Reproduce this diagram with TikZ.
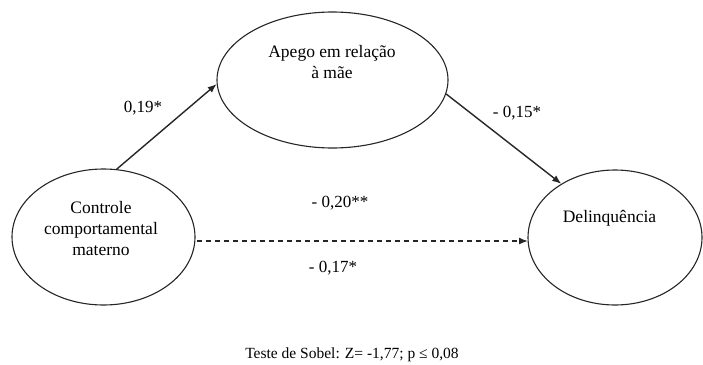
\documentclass[tikz,border=0pt]{standalone}
\usepackage{fontspec}
\setmainfont{Liberation Serif}
\usetikzlibrary{shapes.geometric,arrows.meta}
\begin{document}
\begin{tikzpicture}[x=1pt,y=-1pt,
  construct/.style={draw=black!85,line width=1.1pt,ellipse,inner sep=0pt},
  ctext/.style={font=\fontsize{17.5}{21}\selectfont,align=center,inner sep=0pt},
  coef/.style={font=\fontsize{17}{20}\selectfont,inner sep=0pt},
  path/.style={draw=black!85,line width=1.4pt,-{Latex[length=9pt,width=7pt]}},
  indirect/.style={path,dash pattern=on 5pt off 4pt}]
  \useasboundingbox (0,0) rectangle (703,364);

  % the three constructs
  \node[construct,minimum width=183pt,minimum height=136pt] (ctrl) at (103.5,237) {};
  \node[construct,minimum width=231pt,minimum height=136pt] (apego) at (332.5,80) {};
  \node[construct,minimum width=174pt,minimum height=135pt] (delinq) at (615,237.5) {};

  \node[ctext] (ctrltxt) at (101,229) {Controle\\comportamental\\materno};
  \node[ctext] (apegotxt) at (332,62) {Apego em relação\\à mãe};
  \node[ctext] (delinqtxt) at (609.5,218) {Delinquência};

  % mediation paths
  \draw[path] (ctrl.79) -- (apego.182);
  \draw[path] (apego.-7) -- (delinq.135);
  \coordinate (dstart) at (197,241);
  \coordinate (dend) at (528,241);
  \draw[indirect] (dstart) -- (dend);

  % path coefficients
  \node[coef] (a) at (143,108) {0,19*};
  \node[coef] (b) at (517,113) {- 0,15*};
  \node[coef] (c) at (340,203) {- 0,20**};
  \node[coef] (cp) at (333,268) {- 0,17*};

  \node[font=\fontsize{15.5}{18}\selectfont,inner sep=0pt] (sobel) at (352,355)
    {Teste de Sobel: Z= -1,77; p ≤ 0,08};
\end{tikzpicture}
\end{document}
